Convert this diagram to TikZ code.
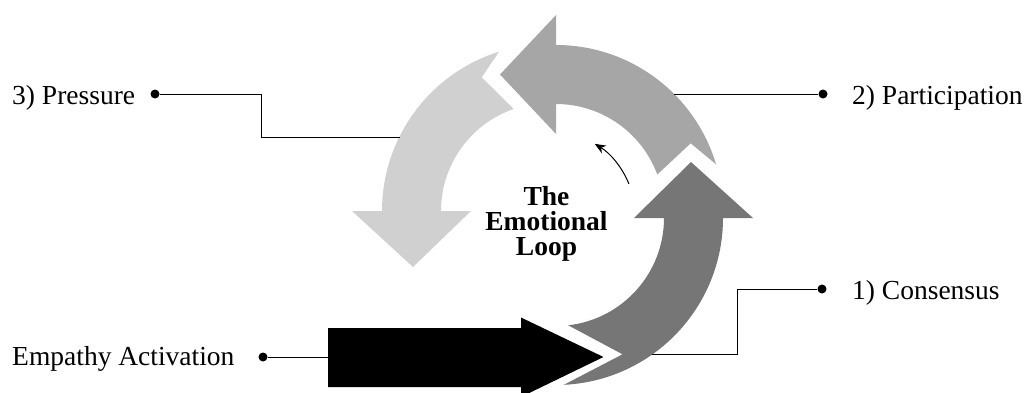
\documentclass[tikz,border=0pt]{standalone}
\usepackage{fontspec}
\setmainfont{Liberation Serif}
\usetikzlibrary{calc,arrows.meta}
\definecolor{loopdark}{HTML}{767676}
\definecolor{loopmid}{HTML}{A6A6A6}
\definecolor{looplight}{HTML}{D0D0D0}
\begin{document}
\begin{tikzpicture}[x=1pt,y=1pt,
  labeltext/.style={font=\fontsize{27.5}{33}\selectfont, inner sep=0pt},
  pindot/.style={circle, fill=black, inner sep=0pt, minimum size=9pt},
  leader/.style={line width=1pt, black},
]
\useasboundingbox (0,0) rectangle (1029,392);

% centres of the three ring segments
\coordinate (c1) at (556,174);
\coordinate (c2) at (556,180);
\coordinate (c3) at (549,181);

% straight entry arrow
\fill[black] (328,5) -- (521,5) -- (521,-5) -- (603.5,35) -- (521,74.5)
  -- (521,64) -- (328,64) -- cycle;

% 1) rising segment, tail notched around the entry arrow
\fill[loopdark] ($(c1)+(-87.3:167)$) arc[start angle=-87.3, end angle=0, radius=167pt]
  -- ($(c1)+(197,0)$) -- ($(c1)+(135,56)$) -- ($(c1)+(78,0)$) -- ($(c1)+(108,0)$)
  arc[start angle=0, end angle=-83.5, radius=108pt] -- (622.5,37.7) -- cycle;

% 2) upper segment
\fill[loopmid] ($(c2)+(16.6:167)$) arc[start angle=16.6, end angle=90, radius=167pt]
  -- ($(c2)+(0,197)$) -- ($(c2)+(-56,137.5)$) -- ($(c2)+(0,78)$) -- ($(c2)+(0,108)$)
  arc[start angle=90, end angle=20.3, radius=108pt] -- (690.7,248.7) -- cycle;

% 3) descending segment
\fill[looplight] ($(c3)+(107.4:167)$) arc[start angle=107.4, end angle=180, radius=167pt]
  -- ($(c3)+(-197,0)$) -- ($(c3)+(-136,-56)$) -- ($(c3)+(-78,0)$) -- ($(c3)+(-108,0)$)
  arc[start angle=180, end angle=109.1, radius=108pt] -- (481.7,314.7) -- cycle;

% direction hint inside the loop
\coordinate (hub) at (552,177);
\draw[line width=1pt, -{Stealth[length=11pt,width=9pt]}]
  ($(hub)+(22:83)$) arc[start angle=22, end angle=59, radius=83pt];

% centre title
\node[font=\fontsize{27.5}{25}\selectfont\bfseries, align=center, inner sep=0pt] (title)
  at (546.5,168) {The\\Emotional\\Loop};

% labels with pins and leaders
\node[labeltext, anchor=base west] (lbl0) at (12,26.5) {Empathy Activation};
\node[pindot] (d0) at (263,35) {};
\coordinate (a0) at (328,35);
\draw[leader] (d0) -- (a0);

\node[labeltext, anchor=base west] (lbl1) at (852,93) {1) Consensus};
\node[pindot] (d1) at (822,103) {};
\coordinate (a1) at (652,38);
\draw[leader] (d1) -- (737,103) -- (737,38) -- (a1);

\node[labeltext, anchor=base west] (lbl2) at (852,288) {2) Participation};
\node[pindot] (d2) at (823,298) {};
\coordinate (a2) at (674,298);
\draw[leader] (d2) -- (a2);

\node[labeltext, anchor=base west] (lbl3) at (12,288) {3) Pressure};
\node[pindot] (d3) at (155,298) {};
\coordinate (a3) at (400,255);
\draw[leader] (d3) -- (261,298) -- (261,255) -- (a3);
\end{tikzpicture}
\end{document}
